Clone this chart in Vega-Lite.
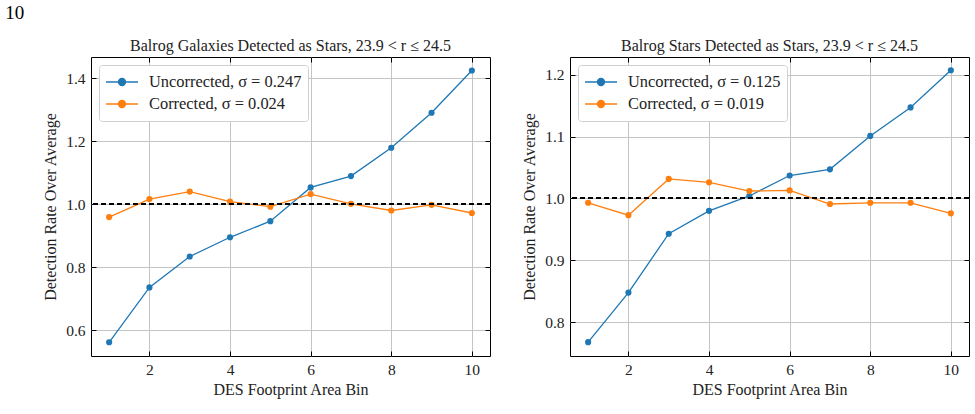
{
  "$schema": "https://vega.github.io/schema/vega-lite/v6.json",
  "padding": {"left": 5, "top": 4, "right": 2, "bottom": 2},
  "background": "white",
  "title": {
    "text": "10",
    "anchor": "start",
    "frame": "bounds",
    "fontSize": 19,
    "fontWeight": "normal",
    "font": "Liberation Serif",
    "color": "black",
    "dx": -37,
    "offset": 14
  },
  "config": {
    "font": "Liberation Serif",
    "view": {"stroke": "black", "strokeWidth": 1},
    "axis": {
      "domain": false,
      "grid": true,
      "gridColor": "#c4c4c4",
      "gridWidth": 1,
      "ticks": true,
      "tickColor": "black",
      "tickSize": -5,
      "tickWidth": 1,
      "labelFont": "Liberation Serif",
      "labelFontSize": 15.5,
      "labelColor": "#222",
      "labelPadding": 11,
      "titleFont": "Liberation Serif",
      "titleFontSize": 16,
      "titleFontWeight": "normal",
      "titleColor": "#222"
    },
    "title": {
      "font": "Liberation Serif",
      "fontSize": 16,
      "fontWeight": "normal",
      "color": "#222",
      "offset": 3
    },
    "legend": {
      "labelFont": "Liberation Serif",
      "labelFontSize": 16.4,
      "labelColor": "#222"
    }
  },
  "resolve": {
    "scale": {"x": "independent", "y": "independent", "color": "independent"},
    "legend": {"color": "independent"}
  },
  "spacing": 29,
  "hconcat": [
    {
      "width": 399,
      "height": 299,
      "title": "Balrog Galaxies Detected as Stars, 23.9 < r ≤ 24.5",
      "data": {
        "values": [
          {"bin": 1, "series": "Uncorrected, σ = 0.247", "rate": 0.562},
          {"bin": 2, "series": "Uncorrected, σ = 0.247", "rate": 0.736},
          {"bin": 3, "series": "Uncorrected, σ = 0.247", "rate": 0.834},
          {"bin": 4, "series": "Uncorrected, σ = 0.247", "rate": 0.895},
          {"bin": 5, "series": "Uncorrected, σ = 0.247", "rate": 0.946},
          {"bin": 6, "series": "Uncorrected, σ = 0.247", "rate": 1.053},
          {"bin": 7, "series": "Uncorrected, σ = 0.247", "rate": 1.089},
          {"bin": 8, "series": "Uncorrected, σ = 0.247", "rate": 1.179},
          {"bin": 9, "series": "Uncorrected, σ = 0.247", "rate": 1.290},
          {"bin": 10, "series": "Uncorrected, σ = 0.247", "rate": 1.424},
          {"bin": 1, "series": "Corrected, σ = 0.024", "rate": 0.959},
          {"bin": 2, "series": "Corrected, σ = 0.024", "rate": 1.016},
          {"bin": 3, "series": "Corrected, σ = 0.024", "rate": 1.040},
          {"bin": 4, "series": "Corrected, σ = 0.024", "rate": 1.008},
          {"bin": 5, "series": "Corrected, σ = 0.024", "rate": 0.992},
          {"bin": 6, "series": "Corrected, σ = 0.024", "rate": 1.032},
          {"bin": 7, "series": "Corrected, σ = 0.024", "rate": 1.001},
          {"bin": 8, "series": "Corrected, σ = 0.024", "rate": 0.980},
          {"bin": 9, "series": "Corrected, σ = 0.024", "rate": 0.998},
          {"bin": 10, "series": "Corrected, σ = 0.024", "rate": 0.972}
        ]
      },
      "resolve": {"axis": {"x": "independent", "y": "independent"}},
      "layer": [
        {
          "mark": {"type": "line", "strokeWidth": 1.3},
          "encoding": {
            "x": {
              "field": "bin", "type": "quantitative",
              "scale": {"domain": [0.55, 10.45], "nice": false, "zero": false},
              "axis": {"values": [2, 4, 6, 8, 10], "title": "DES Footprint Area Bin", "titlePadding": 4}
            },
            "y": {
              "field": "rate", "type": "quantitative",
              "scale": {"domain": [0.5185, 1.4667], "nice": false, "zero": false},
              "axis": {"values": [0.6, 0.8, 1.0, 1.2, 1.4], "format": ".1f", "title": "Detection Rate Over Average", "titlePadding": 7}
            },
            "color": {
              "field": "series", "type": "nominal",
              "scale": {"domain": ["Uncorrected, σ = 0.247", "Corrected, σ = 0.024"], "range": ["#1f77b4", "#ff7f0e"]},
              "legend": {
                "title": null,
                "orient": "top-left",
                "offset": 8,
                "padding": 6,
                "fillColor": "white",
                "strokeColor": "#d0d0d0",
                "cornerRadius": 3,
                "symbolType": "M-1,0L1,0M0.22,0A0.22,0.22 0 1,1 -0.22,0A0.22,0.22 0 1,1 0.22,0Z",
                "symbolSize": 1024,
                "symbolStrokeWidth": 1.3,
                "labelOffset": 10,
                "clipHeight": 22,
                "rowPadding": 0,
                "encode": {
                  "symbols": {
                    "update": {
                      "fill": [{"test": "indexof(datum.value, 'Uncorrected') === 0", "value": "#1f77b4"}, {"value": "#ff7f0e"}],
                      "stroke": [{"test": "indexof(datum.value, 'Uncorrected') === 0", "value": "#1f77b4"}, {"value": "#ff7f0e"}],
                      "opacity": {"value": 1}
                    }
                  }
                }
              }
            }
          }
        },
        {
          "mark": {"type": "point", "filled": true, "size": 38, "opacity": 1},
          "encoding": {
            "x": {"field": "bin", "type": "quantitative", "axis": {"orient": "top", "values": [2, 4, 6, 8, 10], "labels": false, "title": null, "grid": false}},
            "y": {"field": "rate", "type": "quantitative", "axis": {"orient": "right", "values": [0.6, 0.8, 1.0, 1.2, 1.4], "labels": false, "title": null, "grid": false}},
            "color": {"field": "series", "type": "nominal", "legend": null}
          }
        },
        {
          "mark": {"type": "rule", "color": "black", "strokeWidth": 1.3, "strokeDash": [5, 3]},
          "encoding": {"y": {"datum": 1, "axis": null}}
        }
      ]
    },
    {
      "width": 399,
      "height": 299,
      "title": "Balrog Stars Detected as Stars, 23.9 < r ≤ 24.5",
      "data": {
        "values": [
          {"bin": 1, "series": "Uncorrected, σ = 0.125", "rate": 0.768},
          {"bin": 2, "series": "Uncorrected, σ = 0.125", "rate": 0.848},
          {"bin": 3, "series": "Uncorrected, σ = 0.125", "rate": 0.943},
          {"bin": 4, "series": "Uncorrected, σ = 0.125", "rate": 0.980},
          {"bin": 5, "series": "Uncorrected, σ = 0.125", "rate": 1.004},
          {"bin": 6, "series": "Uncorrected, σ = 0.125", "rate": 1.037},
          {"bin": 7, "series": "Uncorrected, σ = 0.125", "rate": 1.047},
          {"bin": 8, "series": "Uncorrected, σ = 0.125", "rate": 1.101},
          {"bin": 9, "series": "Uncorrected, σ = 0.125", "rate": 1.147},
          {"bin": 10, "series": "Uncorrected, σ = 0.125", "rate": 1.207},
          {"bin": 1, "series": "Corrected, σ = 0.019", "rate": 0.993},
          {"bin": 2, "series": "Corrected, σ = 0.019", "rate": 0.973},
          {"bin": 3, "series": "Corrected, σ = 0.019", "rate": 1.0315},
          {"bin": 4, "series": "Corrected, σ = 0.019", "rate": 1.026},
          {"bin": 5, "series": "Corrected, σ = 0.019", "rate": 1.012},
          {"bin": 6, "series": "Corrected, σ = 0.019", "rate": 1.013},
          {"bin": 7, "series": "Corrected, σ = 0.019", "rate": 0.991},
          {"bin": 8, "series": "Corrected, σ = 0.019", "rate": 0.993},
          {"bin": 9, "series": "Corrected, σ = 0.019", "rate": 0.993},
          {"bin": 10, "series": "Corrected, σ = 0.019", "rate": 0.976}
        ]
      },
      "resolve": {"axis": {"x": "independent", "y": "independent"}},
      "layer": [
        {
          "mark": {"type": "line", "strokeWidth": 1.3},
          "encoding": {
            "x": {
              "field": "bin", "type": "quantitative",
              "scale": {"domain": [0.55, 10.45], "nice": false, "zero": false},
              "axis": {"values": [2, 4, 6, 8, 10], "title": "DES Footprint Area Bin", "titlePadding": 4}
            },
            "y": {
              "field": "rate", "type": "quantitative",
              "scale": {"domain": [0.7456, 1.2284], "nice": false, "zero": false},
              "axis": {"values": [0.8, 0.9, 1.0, 1.1, 1.2], "format": ".1f", "title": "Detection Rate Over Average", "titlePadding": 7}
            },
            "color": {
              "field": "series", "type": "nominal",
              "scale": {"domain": ["Uncorrected, σ = 0.125", "Corrected, σ = 0.019"], "range": ["#1f77b4", "#ff7f0e"]},
              "legend": {
                "title": null,
                "orient": "top-left",
                "offset": 8,
                "padding": 6,
                "fillColor": "white",
                "strokeColor": "#d0d0d0",
                "cornerRadius": 3,
                "symbolType": "M-1,0L1,0M0.22,0A0.22,0.22 0 1,1 -0.22,0A0.22,0.22 0 1,1 0.22,0Z",
                "symbolSize": 1024,
                "symbolStrokeWidth": 1.3,
                "labelOffset": 10,
                "clipHeight": 22,
                "rowPadding": 0,
                "encode": {
                  "symbols": {
                    "update": {
                      "fill": [{"test": "indexof(datum.value, 'Uncorrected') === 0", "value": "#1f77b4"}, {"value": "#ff7f0e"}],
                      "stroke": [{"test": "indexof(datum.value, 'Uncorrected') === 0", "value": "#1f77b4"}, {"value": "#ff7f0e"}],
                      "opacity": {"value": 1}
                    }
                  }
                }
              }
            }
          }
        },
        {
          "mark": {"type": "point", "filled": true, "size": 38, "opacity": 1},
          "encoding": {
            "x": {"field": "bin", "type": "quantitative", "axis": {"orient": "top", "values": [2, 4, 6, 8, 10], "labels": false, "title": null, "grid": false}},
            "y": {"field": "rate", "type": "quantitative", "axis": {"orient": "right", "values": [0.8, 0.9, 1.0, 1.1, 1.2], "labels": false, "title": null, "grid": false}},
            "color": {"field": "series", "type": "nominal", "legend": null}
          }
        },
        {
          "mark": {"type": "rule", "color": "black", "strokeWidth": 1.3, "strokeDash": [5, 3]},
          "encoding": {"y": {"datum": 1, "axis": null}}
        }
      ]
    }
  ]
}
